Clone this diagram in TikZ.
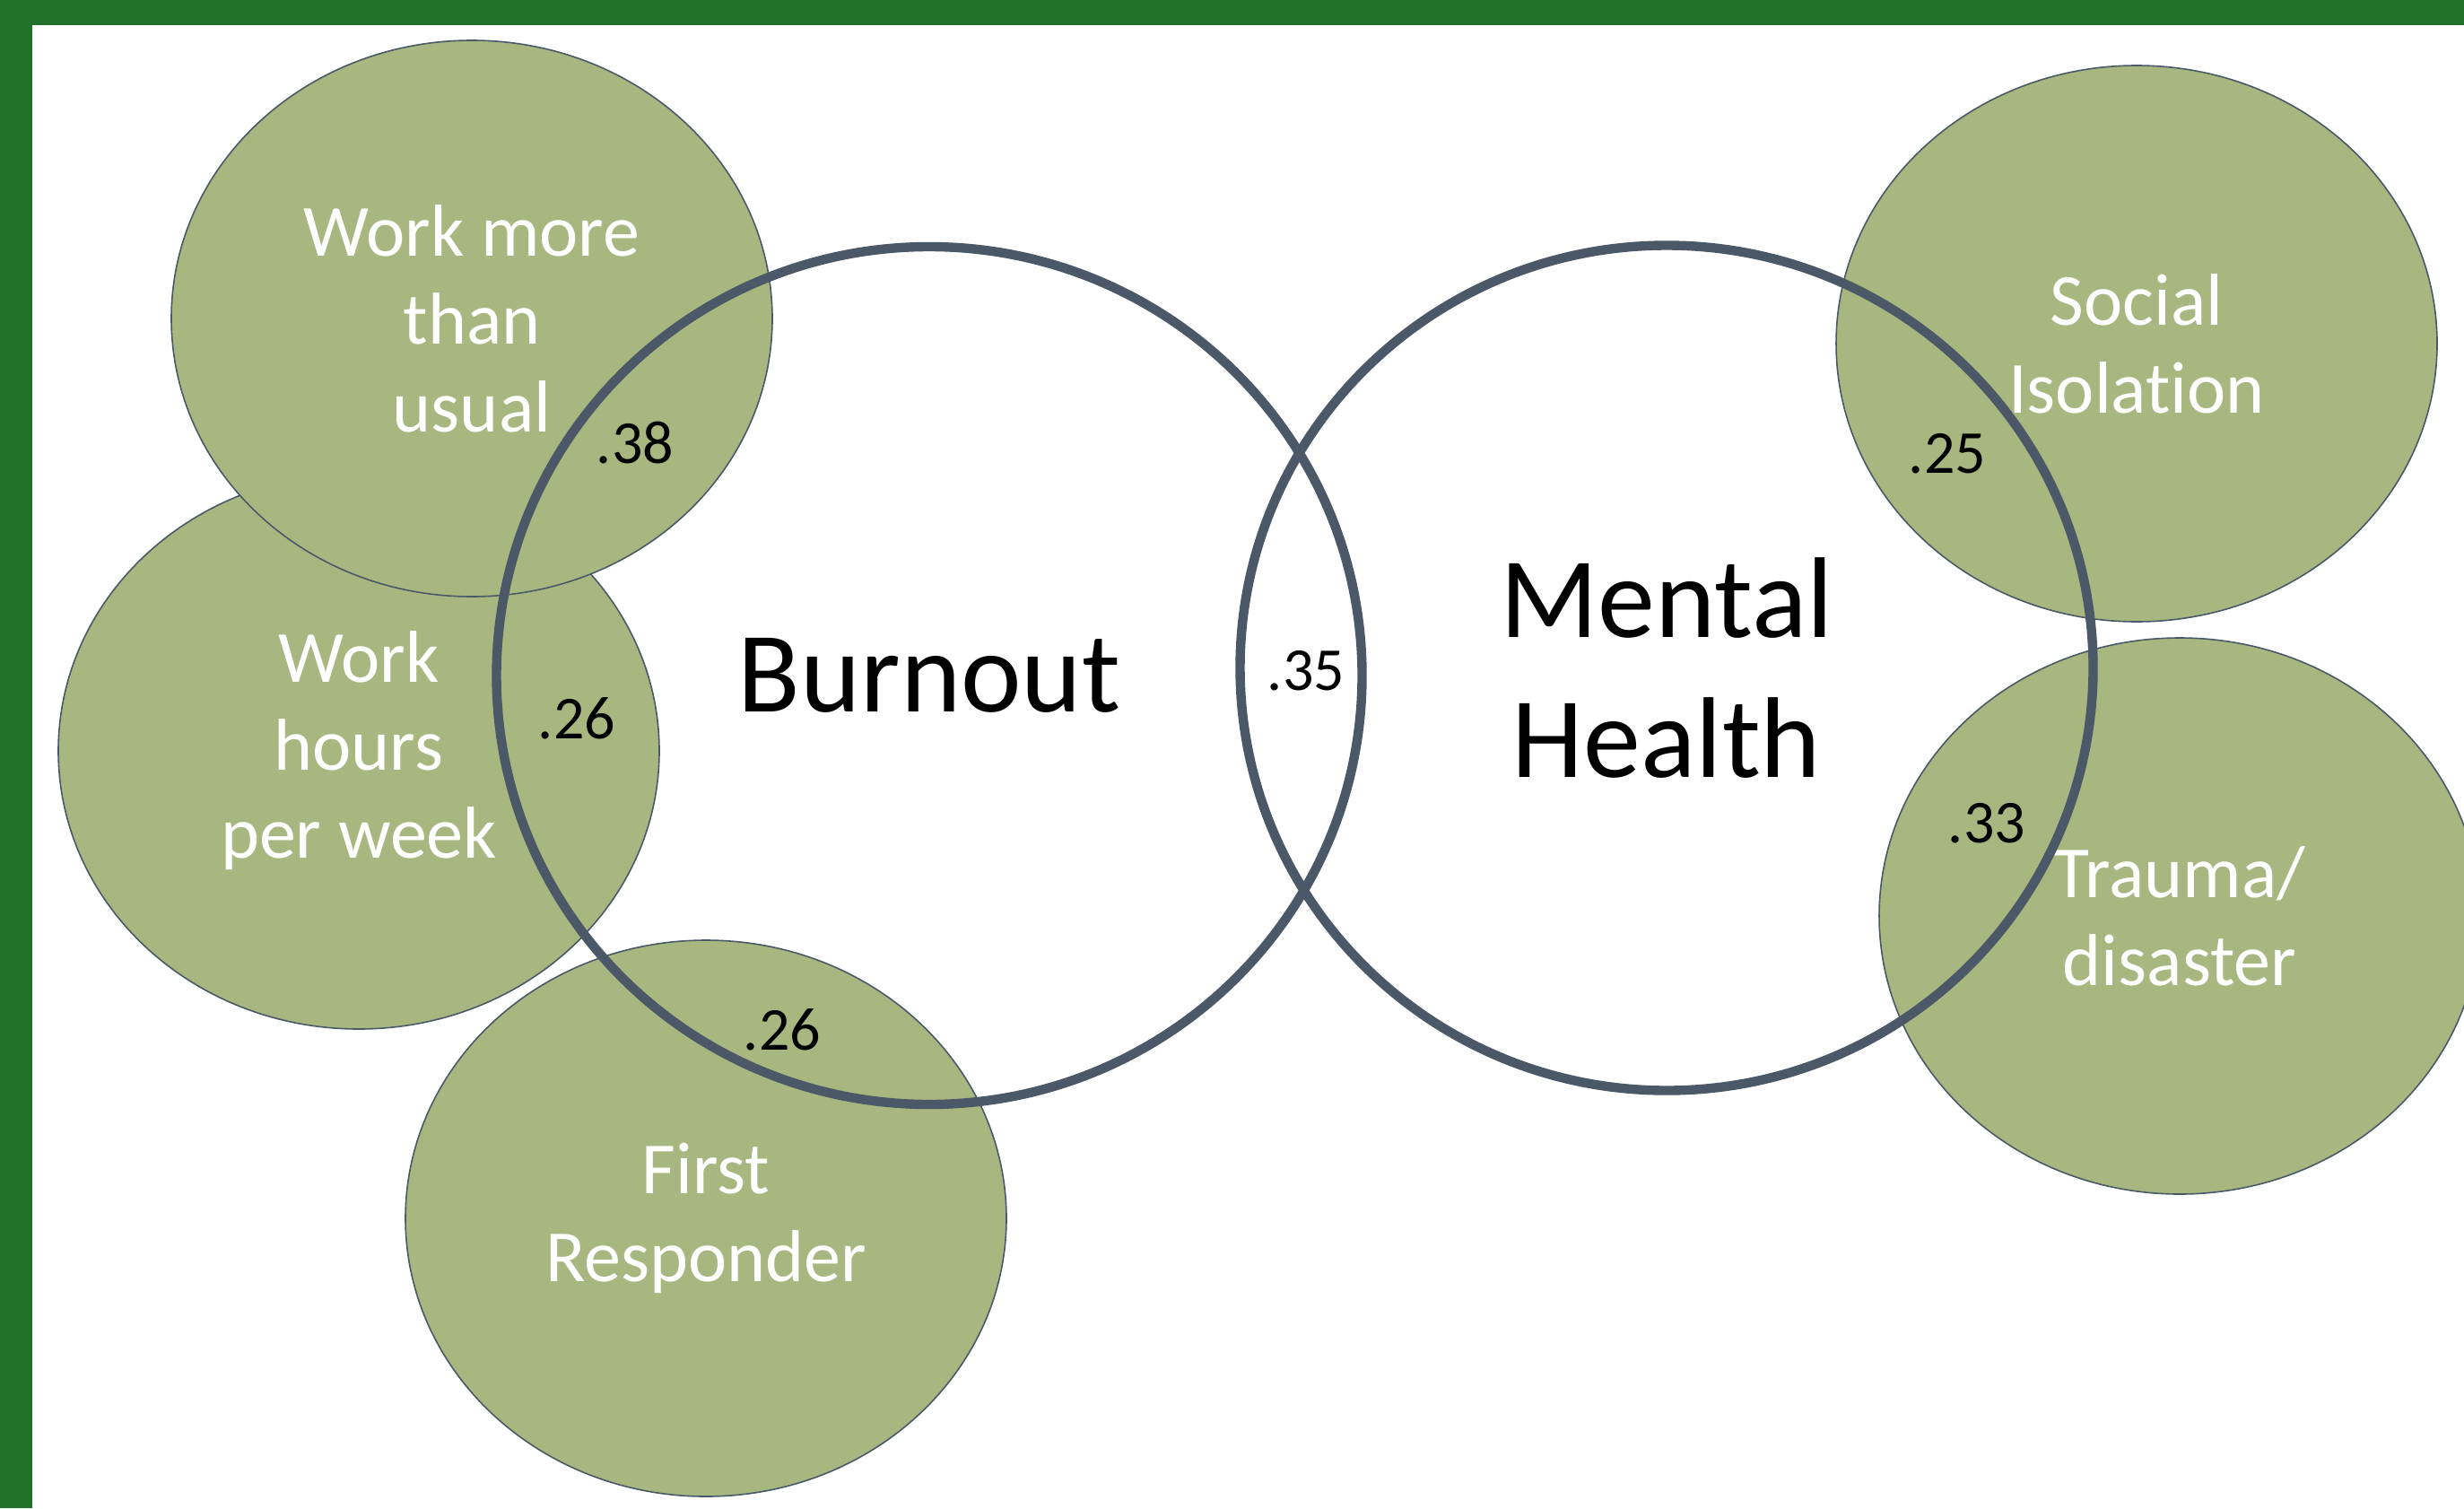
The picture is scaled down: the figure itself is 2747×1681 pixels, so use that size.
\documentclass[tikz,border=0pt]{standalone}
\usepackage{fontspec}
\setmainfont{Carlito}[Ligatures=NoCommon]
\usetikzlibrary{shapes.geometric}
\definecolor{frameGreen}{RGB}{32,112,42}
\definecolor{sageFill}{RGB}{167,183,127}
\definecolor{slate}{RGB}{74,88,104}
\tikzset{every picture/.style={line width=0.75pt}}
\tikzset{
  factor/.style={ellipse, draw=slate, line width=0.4pt, fill=sageFill, minimum width=167.5pt, minimum height=155pt, inner sep=0pt, text=white, align=center, font=\fontsize{20.5}{24.5}\selectfont},
  outcome/.style={ellipse, draw=slate, line width=2.6pt, inner sep=0pt, align=center, font=\fontsize{32}{39}\selectfont},
  coef/.style={inner sep=0.75pt, font=\fontsize{17}{20}\selectfont}
}

\begin{document}
\begin{tikzpicture}[x=0.25pt,y=0.25pt,yscale=-1,xscale=1]
\useasboundingbox (0,0) rectangle (2747,1681);
\clip (0,0) rectangle (2747,1681);

%Frame
\fill[frameGreen] (0,0) rectangle (2747,1681);
\fill[white] (36,28) rectangle (2747,1681);

%Shape: Ellipse [work hours]
\node[factor] (hours) at (400,837) {Work\\hours\\per week};
%Shape: Ellipse [work more]
\node[factor] (more) at (526,355) {Work more\\than\\usual};
%Shape: Ellipse [first responder]
\node[factor] (responder) at (787,1358) {First\\Responder};
%Shape: Ellipse [social isolation]
\node[factor] (social) at (2382,383) {Social\\Isolation};
%Shape: Ellipse [trauma]
\node[factor] (trauma) at (2430,1021) {Trauma/\\disaster};

%Shape: Circle [burnout]
\node[outcome, minimum width=241.25pt, minimum height=239pt] (burnout) at (1036,753) {Burnout};
%Shape: Circle [mental health]
\node[outcome, minimum width=237.75pt, minimum height=235.5pt] (mental) at (1858,744.5) {Mental\\Health};

% Text Node
\node[coef] (rMore) at (708,494) {.38};
% Text Node
\node[coef] (rHours) at (643,801) {.26};
% Text Node
\node[coef] (rResp) at (872,1148) {.26};
% Text Node
\node[coef] (rBM) at (1456,748) {.35};
% Text Node
\node[coef] (rSocial) at (2171,506) {.25};
% Text Node
\node[coef] (rTrauma) at (2215,918) {.33};

\end{tikzpicture}
\end{document}
